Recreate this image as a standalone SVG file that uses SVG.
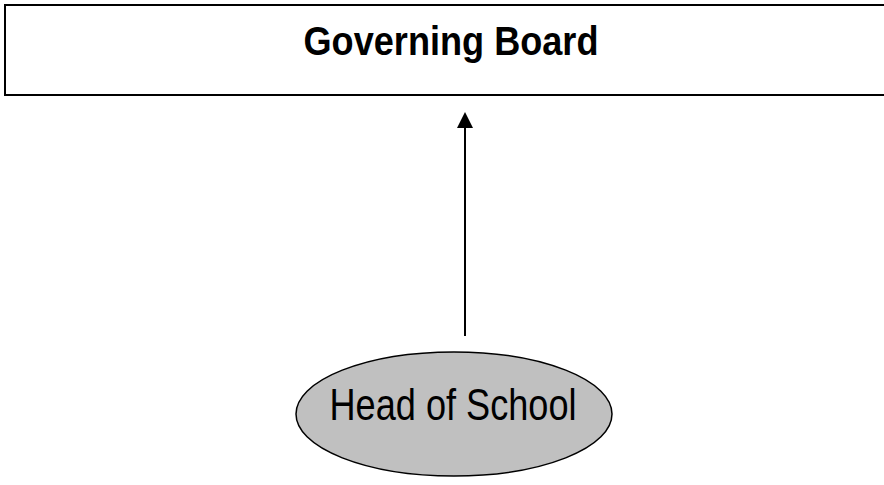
<svg xmlns="http://www.w3.org/2000/svg" width="884" height="485" viewBox="0 0 884 485">
<defs>
<style>
.lbl{font-family:"Liberation Sans",Arial,sans-serif;fill:#000}
.conn{stroke:#000;stroke-width:2;fill:none}
</style>
</defs>
<rect width="884" height="485" fill="#fff"/>
<g id="governing-board">
<rect x="5" y="5" width="895" height="90" fill="#fff" stroke="#000" stroke-width="2"/>
<text class="lbl" x="451" y="55" font-size="41" font-weight="bold" text-anchor="middle" textLength="295" lengthAdjust="spacingAndGlyphs">Governing Board</text>
</g>
<g id="head-of-school">
<ellipse cx="454" cy="414" rx="158" ry="62" fill="#c0c0c0" stroke="#000" stroke-width="1.5"/>
<text class="lbl" x="453" y="420" font-size="45" text-anchor="middle" textLength="247" lengthAdjust="spacingAndGlyphs">Head of School</text>
</g>
<g id="connectors">
<line class="conn" x1="465" y1="336" x2="465" y2="128"/>
<path d="M465,112 L457,128 L473,128 z" fill="#000"/>
</g>
</svg>
